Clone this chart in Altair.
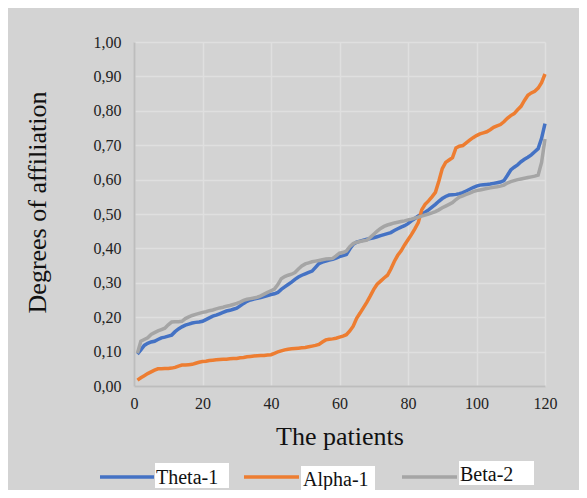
import altair as alt
import pandas as pd

patients = list(range(1, 121))

theta_1 = [
    0.093, 0.105, 0.118, 0.124, 0.128, 0.130, 0.135, 0.140, 0.142, 0.145,
    0.148, 0.158, 0.166, 0.172, 0.177, 0.180, 0.183, 0.185, 0.186, 0.188,
    0.193, 0.198, 0.203, 0.206, 0.210, 0.214, 0.218, 0.220, 0.223, 0.226,
    0.233, 0.240, 0.246, 0.250, 0.253, 0.255, 0.257, 0.260, 0.263, 0.266,
    0.268, 0.272, 0.281, 0.288, 0.295, 0.302, 0.310, 0.317, 0.322, 0.326,
    0.330, 0.334, 0.345, 0.356, 0.360, 0.363, 0.366, 0.368, 0.372, 0.376,
    0.379, 0.382, 0.398, 0.412, 0.418, 0.421, 0.424, 0.427, 0.429, 0.431,
    0.434, 0.437, 0.440, 0.443, 0.446, 0.452, 0.457, 0.462, 0.466, 0.472,
    0.480, 0.487, 0.494, 0.500, 0.505, 0.512, 0.520, 0.528, 0.537, 0.545,
    0.551, 0.555, 0.556, 0.557, 0.559, 0.562, 0.567, 0.572, 0.577, 0.581,
    0.584, 0.585, 0.586, 0.587, 0.589, 0.591, 0.593, 0.597, 0.612, 0.628,
    0.636, 0.643, 0.652, 0.659, 0.665, 0.672, 0.681, 0.690, 0.720, 0.763,
]

alpha_1 = [
    0.017, 0.024, 0.030, 0.036, 0.041, 0.046, 0.050, 0.050, 0.051, 0.051,
    0.052, 0.054, 0.058, 0.061, 0.061, 0.062, 0.063, 0.066, 0.069, 0.071,
    0.072, 0.074, 0.075, 0.076, 0.077, 0.078, 0.078, 0.079, 0.080, 0.080,
    0.082, 0.083, 0.085, 0.086, 0.087, 0.088, 0.089, 0.089, 0.090, 0.091,
    0.095, 0.099, 0.102, 0.105, 0.107, 0.108, 0.109, 0.110, 0.111, 0.112,
    0.114, 0.116, 0.118, 0.121, 0.128, 0.134, 0.136, 0.137, 0.139, 0.142,
    0.145, 0.149, 0.160, 0.174, 0.197, 0.212, 0.228, 0.244, 0.262, 0.281,
    0.296, 0.305, 0.314, 0.322, 0.340, 0.362, 0.380, 0.393, 0.410, 0.425,
    0.440, 0.457, 0.475, 0.512, 0.528, 0.538, 0.550, 0.563, 0.595, 0.632,
    0.650, 0.657, 0.664, 0.692, 0.697, 0.699, 0.707, 0.715, 0.722, 0.728,
    0.733, 0.736, 0.739, 0.745, 0.752, 0.756, 0.760, 0.768, 0.778, 0.786,
    0.792, 0.803, 0.813, 0.830, 0.845, 0.852, 0.857, 0.866, 0.882, 0.907,
]

beta_2 = [
    0.095, 0.130, 0.135, 0.140, 0.150, 0.155, 0.160, 0.164, 0.168, 0.178,
    0.186, 0.187, 0.187, 0.188, 0.196, 0.201, 0.205, 0.208, 0.211, 0.214,
    0.216, 0.219, 0.221, 0.224, 0.227, 0.229, 0.232, 0.234, 0.237, 0.240,
    0.244, 0.249, 0.252, 0.254, 0.256, 0.258, 0.262, 0.267, 0.272, 0.277,
    0.282, 0.295, 0.312, 0.318, 0.322, 0.325, 0.330, 0.340, 0.349, 0.355,
    0.358, 0.361, 0.363, 0.365, 0.367, 0.369, 0.370, 0.371, 0.378, 0.386,
    0.388, 0.392, 0.405, 0.414, 0.418, 0.420, 0.422, 0.424, 0.432, 0.441,
    0.450, 0.458, 0.464, 0.468, 0.471, 0.474, 0.476, 0.478, 0.480, 0.483,
    0.485, 0.488, 0.491, 0.494, 0.497, 0.500, 0.503, 0.507, 0.512, 0.518,
    0.523, 0.528, 0.533, 0.542, 0.549, 0.553, 0.557, 0.561, 0.565, 0.568,
    0.570, 0.572, 0.574, 0.576, 0.578, 0.579, 0.581, 0.584, 0.590, 0.594,
    0.597, 0.600, 0.602, 0.604, 0.606, 0.608, 0.610, 0.613, 0.650, 0.718,
]

series_names = ["Theta-1", "Alpha-1", "Beta-2"]
series_colors = ["#4472C4", "#ED7D31", "#A5A5A5"]
x_ticks = [0, 20, 40, 60, 80, 100, 120]
y_ticks = [0.0, 0.1, 0.2, 0.3, 0.4, 0.5, 0.6, 0.7, 0.8, 0.9, 1.0]

FONT = "Liberation Serif"

x_scale = alt.Scale(domain=[0, 120], nice=False)
y_scale = alt.Scale(domain=[0, 1], nice=False)

x_axis = alt.Axis(
    values=x_ticks, title="The patients", titleFont=FONT, titleFontSize=26,
    titleFontWeight="normal", titleColor="#111", titleBaseline="alphabetic",
    titleY=58, labelFont=FONT, labelFontSize=16, labelColor="#222",
    labelPadding=9, labelFlush=False, ticks=False, grid=True,
    gridColor="#dfdfdf", gridWidth=1.5,
    domainColor="#bdbdbd", domainWidth=2,
)
y_axis = alt.Axis(
    values=y_ticks, title="Degrees of affiliation", titleFont=FONT,
    titleFontSize=26, titleFontWeight="normal", titleColor="#111",
    titleAngle=270, titleBaseline="alphabetic", titleAlign="center",
    titleX=-89, titleY=160, labelFont=FONT, labelFontSize=16,
    labelColor="#222", labelPadding=13, labelFlush=False, ticks=False,
    labelExpr="replace(format(datum.value, '.2f'), '.', ',')",
    grid=True, gridColor="#dfdfdf", gridWidth=1.5,
    domainColor="#bdbdbd", domainWidth=2,
)


def series_layer(name, values, color):
    df = pd.DataFrame({"patient": patients, "value": values, "series": name})
    return alt.Chart(df).mark_line(color=color, strokeWidth=3.5).encode(
        x=alt.X("patient:Q", scale=x_scale, axis=x_axis),
        y=alt.Y("value:Q", scale=y_scale, axis=y_axis),
    )


lines = [
    series_layer("Theta-1", theta_1, series_colors[0]),
    series_layer("Alpha-1", alpha_1, series_colors[1]),
    series_layer("Beta-2", beta_2, series_colors[2]),
]

# manual legend (line sample + white label box + text), in pixel space
legend_df = pd.DataFrame({"k": [0]})
legend_spec = [
    # (line x1, line x2, line y, box x1, box x2, box y1, box y2, text x, text y)
    (-34, 20, 435, 21, 95, 421, 446, 22, 442),
    (110, 165, 435, 167, 241, 424, 448, 169, 444),
    (268, 323, 435, 325, 400, 419, 443, 326, 439),
]
legend_layers = []
for name, color, s in zip(series_names, series_colors, legend_spec):
    lx1, lx2, ly, bx1, bx2, by1, by2, tx, ty = s
    legend_layers.append(
        alt.Chart(legend_df).mark_rule(color=color, strokeWidth=3.5).encode(
            x=alt.value(lx1), x2=alt.value(lx2), y=alt.value(ly)
        )
    )
    legend_layers.append(
        alt.Chart(legend_df).mark_rect(color="white").encode(
            x=alt.value(bx1), x2=alt.value(bx2), y=alt.value(by1), y2=alt.value(by2)
        )
    )
    legend_layers.append(
        alt.Chart(legend_df).mark_text(
            text=name, font=FONT, fontSize=20, color="#111", align="left",
            baseline="alphabetic"
        ).encode(x=alt.value(tx), y=alt.value(ty))
    )

chart = alt.layer(*lines, *legend_layers).properties(
    width=411, height=344,
    background="#d3d3d3",
    autosize=alt.AutoSizeParams(type="none"),
    padding={"left": 126, "top": 34, "right": 34, "bottom": 104},
).configure_view(stroke=None)

chart.save("out.html", embed_options={"renderer": "svg", "actions": False})
